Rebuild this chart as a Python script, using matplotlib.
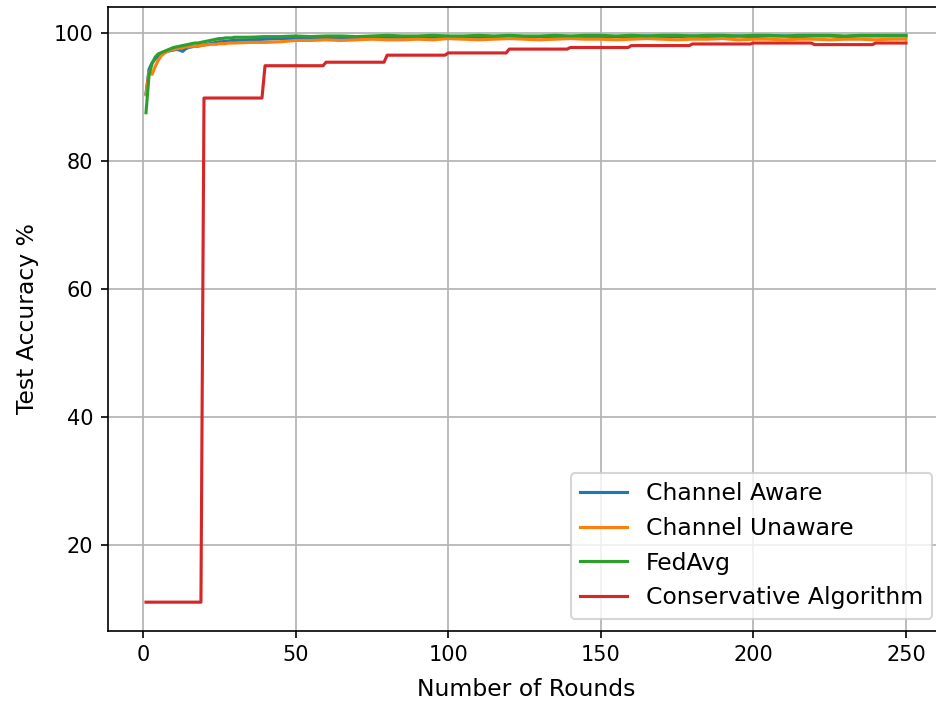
import numpy as np
import matplotlib
matplotlib.use("Agg")
import matplotlib.pyplot as plt

# rounds where values were read (every round early on, then every 5)
rounds = list(range(1, 31)) + list(range(35, 251, 5))

aware = [90.6, 94.4, 95.4, 96.0, 96.5, 96.8, 97.0, 97.2, 97.3, 97.4,
         97.5, 97.4, 97.2, 97.6, 97.8, 97.9, 98.0, 98.0, 98.1, 98.2,
         98.3, 98.4, 98.5, 98.6, 98.7, 98.7, 98.8, 98.8, 98.9, 98.9,
         99.0, 99.1, 99.2, 99.2, 99.3, 99.2, 99.3, 99.4, 99.3, 99.4,
         99.4, 99.3, 99.4, 99.5, 99.4, 99.4, 99.5, 99.4, 99.5, 99.5,
         99.4, 99.5, 99.5, 99.4, 99.5, 99.5, 99.6, 99.5, 99.5, 99.6,
         99.5, 99.5, 99.6, 99.5, 99.6, 99.6, 99.5, 99.6, 99.6, 99.5,
         99.6, 99.6, 99.6, 99.6]

unaware = [90.4, 94.0, 93.6, 94.8, 95.8, 96.5, 96.9, 97.2, 97.4, 97.5,
           97.6, 97.7, 97.8, 97.9, 97.9, 98.0, 98.0, 98.1, 98.1, 98.2,
           98.2, 98.3, 98.3, 98.3, 98.4, 98.4, 98.4, 98.5, 98.5, 98.5,
           98.6, 98.6, 98.7, 98.9, 98.9, 99.0, 98.9, 99.0, 99.1, 99.0,
           99.0, 99.1, 99.0, 99.2, 99.1, 99.0, 99.1, 99.2, 99.1, 99.0,
           99.1, 99.2, 99.1, 99.1, 99.0, 99.1, 99.2, 99.1, 99.0, 99.1,
           99.1, 99.2, 99.0, 99.1, 99.1, 99.0, 99.1, 99.1, 99.0, 99.1,
           99.1, 99.0, 99.1, 99.1]

fedavg = [87.6, 93.5, 95.3, 96.3, 96.8, 97.0, 97.2, 97.4, 97.6, 97.8,
          97.9, 98.0, 98.1, 98.2, 98.3, 98.4, 98.5, 98.5, 98.6, 98.7,
          98.8, 98.9, 99.0, 99.1, 99.2, 99.2, 99.3, 99.3, 99.3, 99.4,
          99.4, 99.5, 99.5, 99.6, 99.5, 99.6, 99.6, 99.5, 99.6, 99.7,
          99.6, 99.6, 99.7, 99.6, 99.6, 99.7, 99.6, 99.7, 99.6, 99.6,
          99.7, 99.6, 99.7, 99.7, 99.6, 99.7, 99.6, 99.7, 99.7, 99.6,
          99.7, 99.7, 99.6, 99.7, 99.7, 99.6, 99.7, 99.7, 99.7, 99.6,
          99.7, 99.7, 99.7, 99.7]

# conservative algorithm only updates every 20 rounds
cons_starts = [1, 20, 40, 60, 80, 100, 120, 140, 160, 180, 200, 220, 240]
cons_levels = [11.1, 89.9, 94.95, 95.5, 96.6, 96.95, 97.55, 97.8,
               98.1, 98.35, 98.5, 98.25, 98.5]

cons_rounds = np.arange(1, 251)
cons = np.repeat(cons_levels, np.diff(cons_starts + [251]))

fig = plt.figure(figsize=(6.24, 704 / 150), dpi=150)
ax = fig.add_axes([108 / 936, 73.5 / 704, 836 / 936, 623.5 / 704])

ax.plot(rounds, aware, label="Channel Aware")
ax.plot(rounds, unaware, label="Channel Unaware")
ax.plot(rounds, fedavg, label="FedAvg")
ax.plot(cons_rounds, cons, label="Conservative Algorithm")

ax.set_xlabel("Number of Rounds", fontsize=11.25, labelpad=6)
ax.set_ylabel("Test Accuracy %", fontsize=11.25, labelpad=7)
ax.grid(True)
ax.legend(loc="lower right", fontsize=11.25)

fig.savefig("out.png", dpi=150)
